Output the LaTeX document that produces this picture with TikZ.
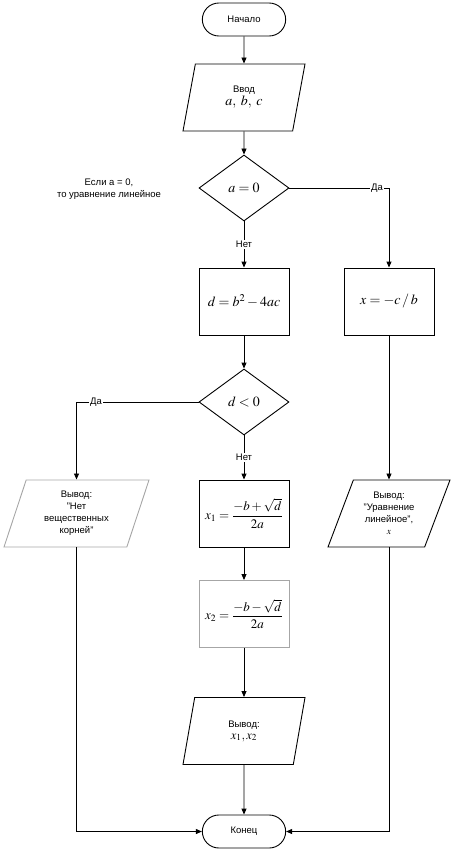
\documentclass[tikz,border=0pt]{standalone}
\usepackage{amsmath}
\usepackage{mathptmx}
\usepackage{fontspec}
\setmainfont{Liberation Sans}
\usetikzlibrary{shapes.geometric,shapes.misc,arrows.meta}
\newcommand{\bigmath}[2][14]{{\fontsize{#1}{#1}\selectfont$#2$}}
\tikzset{
	terminal/.style={draw, rounded rectangle, minimum width=90pt, minimum height=33pt}, % Start / end
	process/.style={draw, rectangle, minimum width=90pt, minimum height=67pt, inner sep=1pt},
	decision/.style={draw, diamond, minimum width=90pt, minimum height=66pt, inner sep=0pt},
	inout/.style={draw, trapezium, trapezium stretches body, trapezium left angle=63,
		trapezium right angle=117, minimum width=122pt, minimum height=67pt, inner sep=1pt, align=center},
	line/.style={-{Triangle[length=6pt,width=5pt]}}, % Connector with arrow tip
	answer/.style={fill=white, inner sep=1pt}
}
\begin{document}
\begin{tikzpicture}[x=1pt, y=-1pt, line width=0.9pt, font=\fontsize{9.5}{12}\selectfont]
		\useasboundingbox (0,0) rectangle (456,853);
		% Blocks
		\node [terminal] (start) at (244,19.5) {Начало};
		\node [inout] (in) at (244,97.5) {Ввод\\[1pt]\bigmath{a,\;b,\;c}};
		\node [decision] (dec1) at (244,188) {\bigmath{a=0}};
		\node [align=center] (note) at (109,189.5) {Если a = 0,\\то уравнение линейное};
		\node [process] (calc) at (244,301.5) {\bigmath{d=b^2-4ac}};
		\node [process] (lin) at (389,301.5) {\bigmath{x=-c\,/\,b}};
		\node [decision] (dec2) at (244,402) {\bigmath{d<0}};
		\node [inout, draw=gray!70, trapezium left angle=64.5, trapezium right angle=115.5,
			minimum width=145pt] (none) at (76.5,513.5) {Вывод:\\"Нет\\вещественных\\корней"};
		\node [process] (x1) at (244,513.5) {\bigmath[13]{x_1=\dfrac{-b+\sqrt{d}}{2a}}};
		\node [inout, trapezium left angle=60.4, trapezium right angle=119.6]
			(linout) at (389,513.5) {Вывод:\\"Уравнение\\линейное",\\$x$};
		\node [process, draw=gray!70] (x2) at (244,614) {\bigmath[13]{x_2=\dfrac{-b-\sqrt{d}}{2a}}};
		\node [inout] (out) at (244,731) {Вывод:\\\bigmath[12.5]{x_1,x_2}};
		\node [terminal] (stop) at (244,831.5) {Конец};
		% Connectors
		\draw [line] (start) -- (in);
		\draw [line] (in) -- (dec1);
		\draw [line] (dec1) -- node [answer] {Нет} (calc);
		\draw [line] (dec1.east) -| node [answer, pos=0.44] {Да} (lin);
		\draw [line] (calc) -- (dec2);
		\draw [line] (dec2.west) -| node [answer, pos=0.42] {Да} (none);
		\draw [line] (dec2) -- node [answer] {Нет} (x1);
		\draw [line] (lin) -- (linout);
		\draw [line] (x1) -- (x2);
		\draw [line] (x2) -- (out);
		\draw [line] (out) -- (stop);
		\draw [line] (none) |- (stop);
		\draw [line] (linout) |- (stop);
\end{tikzpicture}
\end{document}
